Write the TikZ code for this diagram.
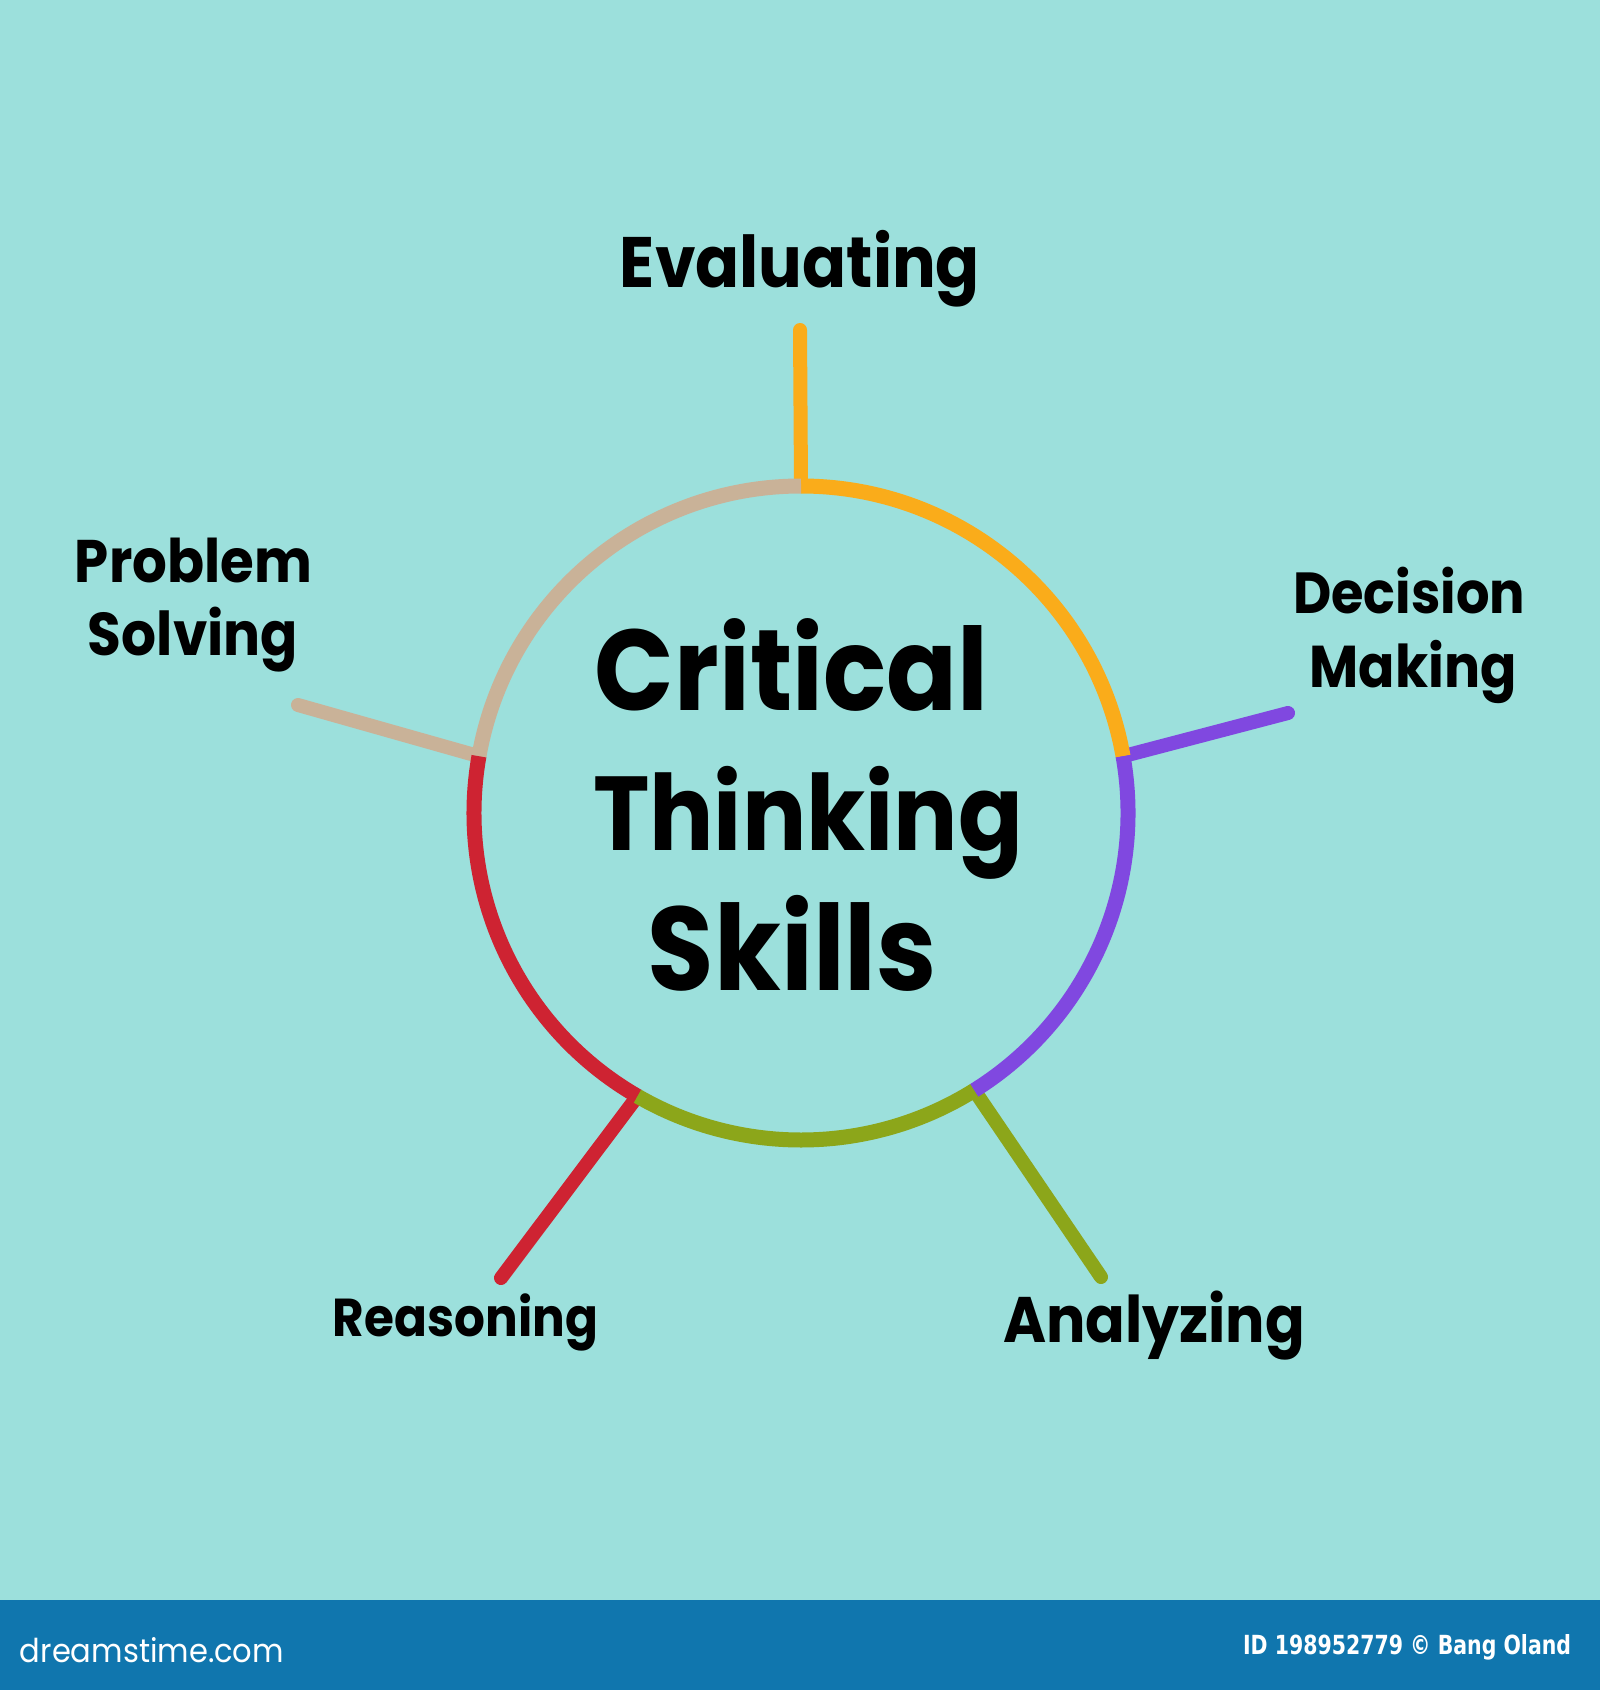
\documentclass[tikz,border=0pt]{standalone}
\usepackage{fontspec}
\usepackage{graphicx}
\setmainfont{Poppins}
\newfontfamily\barfont{DejaVu Sans}
\usetikzlibrary{calc}
\definecolor{bgC}{RGB}{156,224,220}
\definecolor{barC}{RGB}{16,118,174}
\definecolor{orangeC}{RGB}{250,172,26}
\definecolor{tanC}{RGB}{201,178,152}
\definecolor{redC}{RGB}{206,35,50}
\definecolor{greenC}{RGB}{140,166,26}
\definecolor{purpleC}{RGB}{128,72,224}
\newcommand\mylab[2]{\scalebox{1}[1.1]{\resizebox{#1}{!}{#2}}}
\begin{document}
\begin{tikzpicture}[x=0.5pt,y=-0.5pt,
  seg/.style={line width=7.5pt},
  spoke/.style={line width=7pt, line cap=round},
  lbl/.style={anchor=base, inner sep=0pt, font=\bfseries, text=black},
  bartext/.style={anchor=base, inner sep=0pt, text=white}]
\fill[bgC] (0,0) rectangle (1600,1690);
\fill[barC] (0,1600) rectangle (1600,1690);
\useasboundingbox (0,0) rectangle (1600,1690);
% centre and junctions
\coordinate (c) at (801,813);
\coordinate (jE) at ($(c)+(-90:327)$);
\coordinate (jD) at ($(c)+(-10:327)$);
\coordinate (jA) at ($(c)+(58:327)$);
\coordinate (jR) at ($(c)+(120:327)$);
\coordinate (jP) at ($(c)+(-170:327)$);
% spoke ends
\coordinate (eE) at (800,330);
\coordinate (eD) at (1288,713);
\coordinate (eA) at (1101,1277);
\coordinate (eR) at (501,1278);
\coordinate (eP) at (298,705);
% spokes
\draw[spoke, orangeC] (jE) -- (eE);
\draw[spoke, purpleC] (jD) -- (eD);
\draw[spoke, greenC] (jA) -- (eA);
\draw[spoke, redC] (jR) -- (eR);
\draw[spoke, tanC] (jP) -- (eP);
% circle segments
\draw[seg, orangeC] (jD) arc[start angle=-10, end angle=-90, radius=327];
\draw[seg, tanC] (jE) arc[start angle=-90, end angle=-170, radius=327];
\draw[seg, redC] (jP) arc[start angle=-170, end angle=-240, radius=327];
\draw[seg, greenC] (jR) arc[start angle=120, end angle=58, radius=327];
\draw[seg, purpleC] (jA) arc[start angle=58, end angle=-10, radius=327];
% centre title
\node[lbl] (tCritical) at (791.5,710) {\mylab{196.5pt}{Critical}};
\node[lbl] (tThinking) at (808,850) {\mylab{215pt}{Thinking}};
\node[lbl] (tSkills) at (792.5,990) {\mylab{144.5pt}{Skills}};
% labels
\node[lbl] (tEval) at (800,288) {\mylab{180pt}{Evaluating}};
\node[lbl] (tProblem) at (193.5,582) {\mylab{118.5pt}{Problem}};
\node[lbl] (tSolving) at (193,655) {\mylab{105pt}{Solving}};
\node[lbl] (tDecision) at (1409,613) {\mylab{116pt}{Decision}};
\node[lbl] (tMaking) at (1413,687) {\mylab{103.5pt}{Making}};
\node[lbl] (tReason) at (465.5,1336) {\mylab{132.5pt}{Reasoning}};
\node[lbl] (tAnalyz) at (1154,1342) {\mylab{151pt}{Analyzing}};
% bottom bar
\node[bartext] (tSite) at (152,1662) {\resizebox{132pt}{12.5pt}{dreamstime.com}};
\node[bartext, font=\barfont\bfseries] (tId) at (1407,1654) {\resizebox{164pt}{10pt}{ID 198952779 © Bang Oland}};
\end{tikzpicture}
\end{document}
